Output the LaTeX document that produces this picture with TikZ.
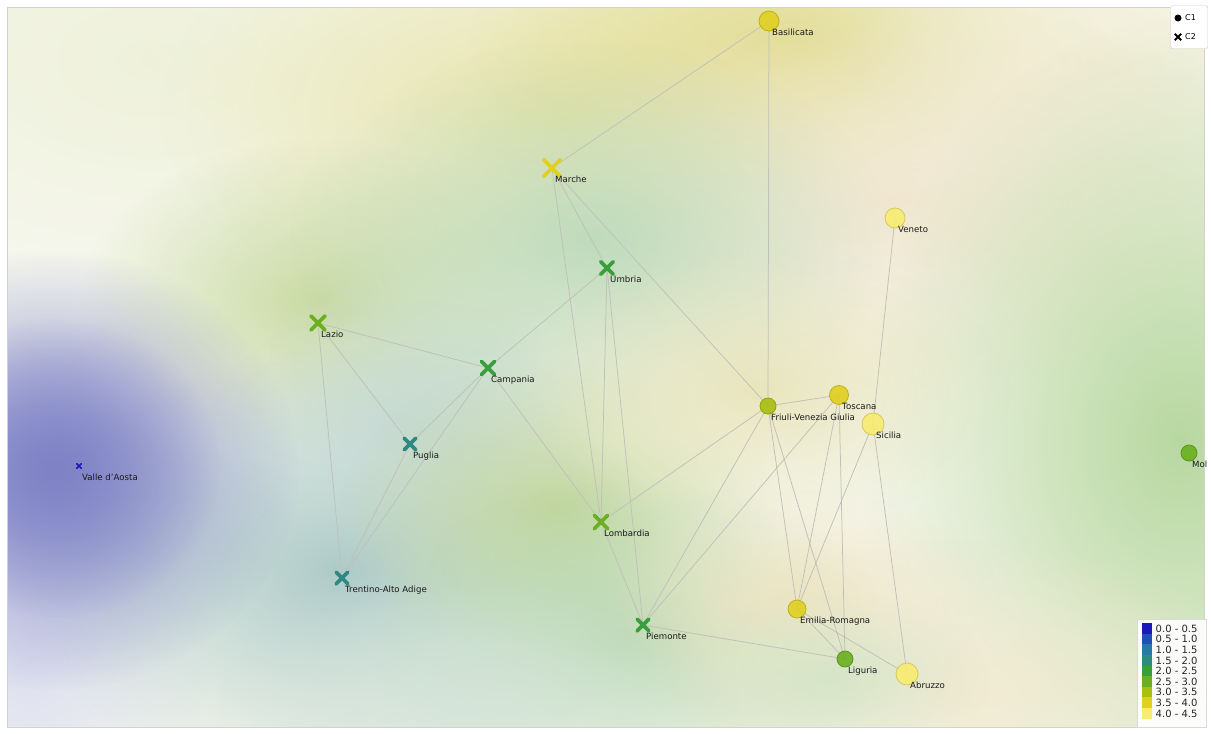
\documentclass[tikz,border=0pt]{standalone}
\usepackage{fontspec}
\setmainfont{DejaVu Sans}
\usetikzlibrary{fadings,shapes.misc}
\tikzfading[name=softblob, inner color=transparent!0, outer color=transparent!100]
\pgfdeclarelayer{bglayer}
\pgfdeclarelayer{edgelayer}
\pgfsetlayers{bglayer,edgelayer,main}
\definecolor{bgc}{HTML}{F6F7EE}
\definecolor{v0}{HTML}{1A1AB8}
\definecolor{v1}{HTML}{1F4FB8}
\definecolor{v2}{HTML}{2A78A8}
\definecolor{v3}{HTML}{2E8A80}
\definecolor{v4}{HTML}{3A9E3A}
\definecolor{v5}{HTML}{6AB020}
\definecolor{v6}{HTML}{A8C010}
\definecolor{v7}{HTML}{E0D020}
\definecolor{v8}{HTML}{F8EC70}
\definecolor{edgec}{HTML}{BFC1B8}
\definecolor{h1}{HTML}{EEF1D8}
\definecolor{h2}{HTML}{E6E2A0}
\definecolor{h3}{HTML}{E0DA88}
\definecolor{h4}{HTML}{F2EDD2}
\definecolor{h5}{HTML}{F1E6CE}
\definecolor{h6}{HTML}{C4D79A}
\definecolor{h7}{HTML}{B9D9BA}
\definecolor{h8}{HTML}{CCE0C8}
\definecolor{h9}{HTML}{DADCF0}
\definecolor{h10}{HTML}{A6C6C4}
\definecolor{h11}{HTML}{C2D8D6}
\definecolor{h12}{HTML}{8488CA}
\definecolor{h13}{HTML}{7E82C6}
\definecolor{h14}{HTML}{C0D69A}
\definecolor{h15}{HTML}{B4D6AE}
\definecolor{h16}{HTML}{D4E4D8}
\definecolor{h17}{HTML}{B4D69C}
\definecolor{h18}{HTML}{E8E4B8}
\definecolor{h19}{HTML}{EEE4C0}
\definecolor{h20}{HTML}{F3EAD0}
\definecolor{h21}{HTML}{CFE3C4}
\newcommand\blob[5]{\fill[color=#4, path fading=softblob, fill opacity=#5] #1 ellipse[x radius=#2pt, y radius=#3pt];}
\tikzset{
  dot/.style={circle, inner sep=0pt, fill=#1, draw=#1!85!black, line width=0.8pt, fill opacity=0.9},
  xm/.style={cross out, inner sep=0pt, draw=#1, line width=3.8pt, line cap=round},
  lbl/.style={anchor=base west, inner sep=0pt, font=\fontsize{8.6}{9}\selectfont, text=black!90},
  edge/.style={draw=edgec, line width=0.75pt},
  legt/.style={anchor=west, inner sep=0pt, font=\fontsize{10}{10}\selectfont, text=black!85},
  sw/.style={inner sep=0pt, minimum width=10pt, minimum height=10.6pt, fill=#1, draw=none}
}
\begin{document}
\begin{tikzpicture}[x=1pt,y=-1pt]
\useasboundingbox (0,0) rectangle (1211,734);
\begin{pgfonlayer}{bglayer}
\fill[white] (0,0) rectangle (1211,734);
\begin{scope}
\clip (8,8) rectangle (1204,727);
\fill[bgc] (8,8) rectangle (1204,727);
\blob{(150,60)}{360}{220}{h1}{0.9}
\blob{(560,110)}{400}{220}{h2}{0.9}
\blob{(790,40)}{320}{150}{h3}{0.85}
\blob{(1100,60)}{260}{160}{h4}{0.8}
\blob{(900,200)}{380}{200}{h5}{0.9}
\blob{(320,300)}{240}{160}{h6}{0.9}
\blob{(590,240)}{300}{200}{h7}{0.9}
\blob{(470,350)}{200}{120}{h8}{0.7}
\blob{(30,660)}{180}{200}{h9}{0.9}
\blob{(340,570)}{330}{220}{h10}{0.9}
\blob{(410,430)}{200}{130}{h11}{0.7}
\blob{(50,470)}{250}{220}{h12}{1}
\blob{(60,468)}{160}{150}{h13}{0.9}
\blob{(560,510)}{220}{150}{h14}{0.95}
\blob{(630,640)}{260}{160}{h15}{0.9}
\blob{(480,700)}{260}{120}{h16}{0.8}
\blob{(1180,440)}{320}{420}{h17}{0.95}
\blob{(760,390)}{250}{140}{h18}{0.9}
\blob{(800,600)}{200}{120}{h19}{0.9}
\blob{(960,690)}{300}{150}{h20}{0.9}
\blob{(830,680)}{160}{90}{h21}{0.8}
\end{scope}
\draw[color=black!18] (7.5,7.5) rectangle (1204.5,727.5);
\end{pgfonlayer}

% nodes
\node[dot=v7, minimum size=20pt] (bas) at (769,21) {};
\node[xm=v7, minimum size=13pt] (mar) at (552,168) {};
\node[dot=v8, minimum size=20pt] (ven) at (895,218) {};
\node[xm=v4, minimum size=9pt] (umb) at (607,268) {};
\node[xm=v5, minimum size=10.5pt] (laz) at (318,323) {};
\node[xm=v4, minimum size=9.5pt] (cam) at (488,368) {};
\node[dot=v6, minimum size=16pt] (fri) at (768,406) {};
\node[dot=v7, minimum size=19pt] (tos) at (839,395) {};
\node[dot=v8, minimum size=22pt] (sic) at (873,424) {};
\node[xm=v3, minimum size=8pt] (pug) at (410,444) {};
\node[xm=v0, minimum size=3pt, line width=1.6pt] (val) at (79,466) {};
\node[dot=v5, minimum size=16pt] (mol) at (1189,453) {};
\node[xm=v5, minimum size=9.5pt] (lom) at (601,522) {};
\node[xm=v3, minimum size=8pt] (tre) at (342,578) {};
\node[xm=v4, minimum size=8pt] (pie) at (643,625) {};
\node[dot=v7, minimum size=18pt] (emi) at (797,609) {};
\node[dot=v5, minimum size=16pt] (lig) at (845,659) {};
\node[dot=v8, minimum size=22pt] (abr) at (907,674) {};

% edges
\begin{pgfonlayer}{edgelayer}
\foreach \a/\b in {bas/mar, bas/fri, mar/umb, mar/lom, mar/fri, ven/sic, umb/cam, umb/lom, umb/pie,
  laz/cam, laz/pug, laz/tre, cam/pug, cam/tre, cam/lom, pug/tre, lom/fri, lom/pie,
  fri/tos, fri/pie, fri/emi, fri/lig, tos/pie, tos/emi, tos/lig, sic/emi, sic/abr,
  emi/lig, emi/abr, pie/lig}
  \draw[edge] (\a.center) -- (\b.center);
\end{pgfonlayer}

% labels
\node[lbl] (basl) at (772,35) {Basilicata};
\node[lbl] (marl) at (555,182) {Marche};
\node[lbl] (venl) at (898,232) {Veneto};
\node[lbl] (umbl) at (610,282) {Umbria};
\node[lbl] (lazl) at (321,337) {Lazio};
\node[lbl] (caml) at (491,382) {Campania};
\node[lbl] (fril) at (771,420) {Friuli-Venezia Giulia};
\node[lbl] (tosl) at (842,409) {Toscana};
\node[lbl] (sicl) at (876,438) {Sicilia};
\node[lbl] (pugl) at (413,458) {Puglia};
\node[lbl] (vall) at (82,480) {Valle d'Aosta};
\node[lbl] (moll) at (1192,467) {Mol};
\node[lbl] (loml) at (604,536) {Lombardia};
\node[lbl] (trel) at (345,592) {Trentino-Alto Adige};
\node[lbl] (piel) at (646,639) {Piemonte};
\node[lbl] (emil) at (800,623) {Emilia-Romagna};
\node[lbl] (ligl) at (848,673) {Liguria};
\node[lbl] (abrl) at (910,688) {Abruzzo};

% legend top
\node[draw=black!20, fill=white, rounded corners=1.5pt, minimum width=37pt, minimum height=43pt, inner sep=0pt, anchor=north west] (leg1) at (1170.5,5.5) {};
\node[circle, fill=black, inner sep=0pt, minimum size=7pt] (c1m) at (1178,18) {};
\node[cross out, draw=black, line width=1.8pt, inner sep=0pt, minimum size=4.5pt] (c2m) at (1178,37) {};
\node[anchor=west, inner sep=0pt, font=\fontsize{8}{8}\selectfont] (c1t) at (1185,18) {C1};
\node[anchor=west, inner sep=0pt, font=\fontsize{8}{8}\selectfont] (c2t) at (1185,37) {C2};

% legend bottom
\node[draw=black!15, fill=white, fill opacity=0.9, minimum width=69pt, minimum height=108pt, inner sep=0pt, anchor=north west] (leg2) at (1136.5,618.5) {};
\foreach \c/\t [count=\i from 0] in {v0/0.0 - 0.5, v1/0.5 - 1.0, v2/1.0 - 1.5, v3/1.5 - 2.0, v4/2.0 - 2.5, v5/2.5 - 3.0, v6/3.0 - 3.5, v7/3.5 - 4.0, v8/4.0 - 4.5}{
  \node[sw=\c, anchor=north west] (sw\i) at (1142,{623+10.6*\i}) {};
  \node[legt] (lt\i) at (1155.5,{628.6+10.6*\i}) {\t};
}
\end{tikzpicture}
\end{document}
